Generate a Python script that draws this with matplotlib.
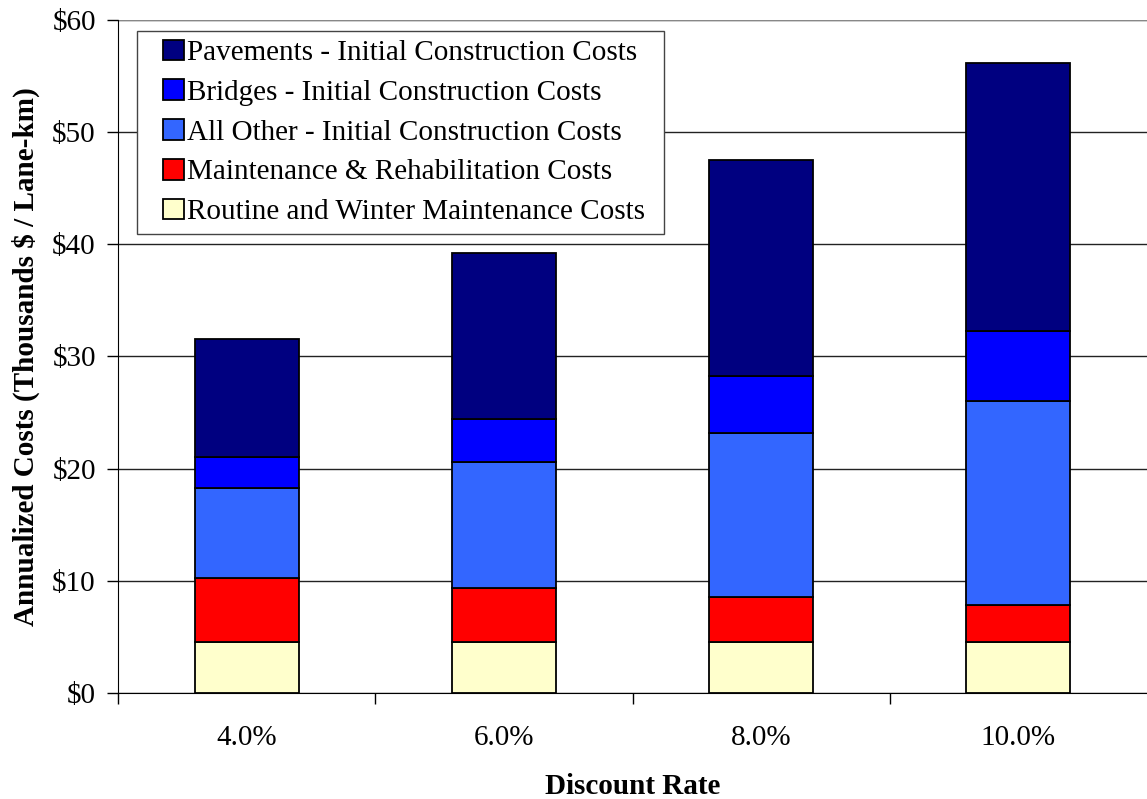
import matplotlib.pyplot as plt
import matplotlib.patches as mpatches
from matplotlib.legend_handler import HandlerPatch
import numpy as np

plt.rcParams['font.family'] = ['Liberation Serif', 'DejaVu Serif']

rates = ['4.0%', '6.0%', '8.0%', '10.0%']
routine = [4.55, 4.55, 4.55, 4.55]
maint_rehab = [5.7, 4.8, 4.0, 3.3]
all_other = [8.0, 11.25, 14.65, 18.15]
bridges = [2.75, 3.8, 5.05, 6.25]
pavements = [10.55, 14.8, 19.25, 23.95]

series = [
    ('Routine and Winter Maintenance Costs', routine, '#FFFFCC'),
    ('Maintenance & Rehabilitation Costs', maint_rehab, '#FF0000'),
    ('All Other - Initial Construction Costs', all_other, '#3366FF'),
    ('Bridges - Initial Construction Costs', bridges, '#0000FF'),
    ('Pavements - Initial Construction Costs', pavements, '#000080'),
]

fig = plt.figure(figsize=(11.47, 7.99), dpi=100)
ax = fig.add_axes([0.1029, 0.1327, 0.8971, 0.8423])

x = np.arange(len(rates))
bottom = np.zeros(len(rates))
handles = []
labels = []
for name, vals, col in series:
    bars = ax.bar(x, vals, width=0.405, bottom=bottom, color=col, edgecolor='black',
                  linewidth=1.3, label=name, zorder=3)
    handles.append(bars.patches[0])
    labels.append(name)
    bottom += np.array(vals)

ax.set_xlim(-0.5, 3.5)
ax.set_ylim(0, 60)
ax.set_yticks(range(0, 61, 10))
ax.set_yticklabels(['$%d' % v for v in range(0, 61, 10)], fontsize=21)
ax.set_xticks(x)
ax.set_xticklabels(rates, fontsize=21)
ax.set_xticks(np.arange(-0.5, 3.5, 1), minor=True)
ax.tick_params(axis='x', which='major', length=0, pad=23)
ax.tick_params(axis='x', which='minor', length=8, width=1)
ax.tick_params(axis='y', length=8, width=1, pad=8)
ax.yaxis.grid(True, color='#222222', linewidth=1, zorder=0)
ax.set_axisbelow(True)
for s in ['top', 'right']:
    ax.spines[s].set_visible(False)
ax.axhline(60, color='#888888', linewidth=1.5, zorder=1)

ax.set_xlabel('Discount Rate', fontsize=21, fontweight='bold', labelpad=16)
ax.set_ylabel('Annualized Costs (Thousands $ / Lane-km)', fontsize=21,
              fontweight='bold', labelpad=9)


# square legend keys sitting at the right of a wider key box
def square_key(legend, orig_handle, xdescent, ydescent, width, height, fontsize):
    return mpatches.Rectangle((-xdescent + width - height, -ydescent), height, height)


leg = ax.legend(handles[::-1], labels[::-1], loc='upper left',
                bbox_to_anchor=(0.0185, 0.0, 0.512, 0.9837), mode='expand',
                borderaxespad=0, fontsize=21, frameon=True,
                fancybox=False, edgecolor='#444444', framealpha=1,
                handlelength=1.3, handleheight=0.72, handletextpad=0.12,
                labelspacing=0.45, borderpad=0.3,
                handler_map={mpatches.Rectangle: HandlerPatch(patch_func=square_key)})
leg.get_frame().set_linewidth(1)
leg.set_zorder(5)

fig.savefig('out.png', dpi=100)
